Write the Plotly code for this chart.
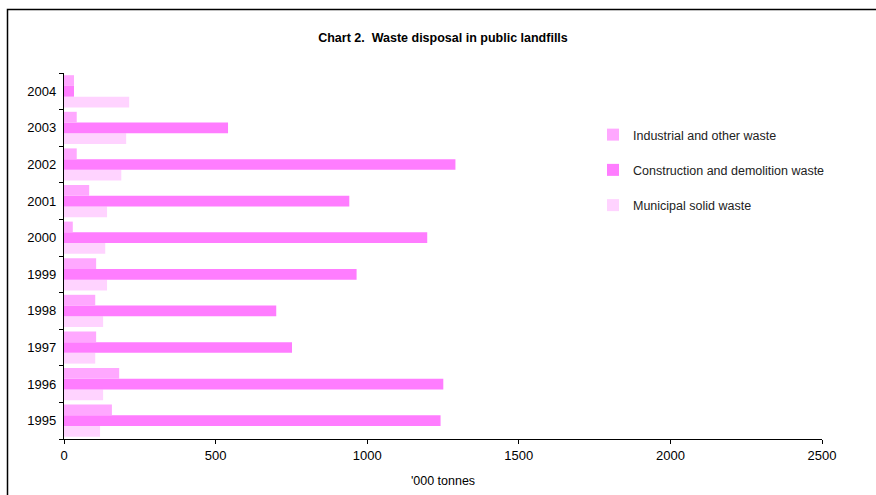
import plotly.graph_objects as go

years = ["1995", "1996", "1997", "1998", "1999", "2000", "2001", "2002", "2003", "2004"]
industrial = [158, 182, 106, 103, 106, 29, 83, 42, 42, 33]
construction = [1242, 1251, 752, 700, 965, 1198, 941, 1291, 541, 33]
municipal = [119, 129, 103, 129, 142, 136, 142, 189, 205, 215]

x_ticks = [0, 500, 1000, 1500, 2000, 2500]

col_ind = "#FFA8FF"
col_con = "#FF7DFF"
col_mun = "#FFD3FF"

FONT = "Liberation Sans, Arial, Helvetica, sans-serif"

fig = go.Figure()
fig.add_trace(go.Bar(y=years, x=municipal, orientation="h", name="Municipal solid waste",
                     marker=dict(color=col_mun, line=dict(width=0)), legendgroup="c", legendrank=3))
fig.add_trace(go.Bar(y=years, x=construction, orientation="h", name="Construction and demolition waste",
                     marker=dict(color=col_con, line=dict(width=0)), legendgroup="b", legendrank=2))
fig.add_trace(go.Bar(y=years, x=industrial, orientation="h", name="Industrial and other waste",
                     marker=dict(color=col_ind, line=dict(width=0)), legendgroup="a", legendrank=1))

L, R, T, B = 64, 54, 73, 56
W, H = 876, 495
pw = W - L - R
ph = H - T - B

def px2paper_x(px):
    return (px - L) / pw

def px2paper_y(py):
    return (H - B - py) / ph

fig.add_shape(type="rect", xref="paper", yref="paper",
              x0=px2paper_x(7.5), x1=px2paper_x(900),
              y0=px2paper_y(520), y1=px2paper_y(9.5),
              line=dict(color="black", width=1.5), fillcolor="rgba(0,0,0,0)", layer="below")

fig.update_layout(
    width=W, height=H,
    margin=dict(l=L, r=R, t=T, b=B, autoexpand=False),
    paper_bgcolor="white", plot_bgcolor="white",
    barmode="group", bargap=0.12, bargroupgap=0,
    font=dict(family=FONT, size=12.5, color="black"),
    title=dict(text="<b>Chart 2.  Waste disposal in public landfills</b>",
               x=0.5, xref="paper", xanchor="center",
               y=1 - 38 / H, yref="container", yanchor="middle",
               font=dict(family=FONT, size=12.5, color="black")),
    legend=dict(x=px2paper_x(593), y=px2paper_y(120), xanchor="left", yanchor="top",
                traceorder="grouped", tracegroupgap=16,
                font=dict(family=FONT, size=12.5, color="#222"),
                bgcolor="rgba(0,0,0,0)", itemwidth=30),
    xaxis=dict(range=[0, 2500], tickvals=x_ticks, ticktext=[str(v) for v in x_ticks],
               showgrid=False, zeroline=False, showline=True, linecolor="black", linewidth=1.3,
               ticks="outside", ticklen=4, tickcolor="black", tickwidth=1.3,
               tickfont=dict(size=13), automargin=False,
               title=dict(text="'000 tonnes", standoff=14, font=dict(family=FONT, size=12.5)),
               fixedrange=True),
    yaxis=dict(type="category", categoryorder="array", categoryarray=years,
               showgrid=False, zeroline=False, showline=True, linecolor="black", linewidth=1.3,
               ticks="outside", ticklen=4, tickcolor="black", tickwidth=1.3,
               tickfont=dict(size=13), automargin=False,
               tickson="boundaries", ticklabelstandoff=4, fixedrange=True),
)

fig.write_html("out.html", config={"displayModeBar": False},
               post_script="document.body.style.margin='0';")
